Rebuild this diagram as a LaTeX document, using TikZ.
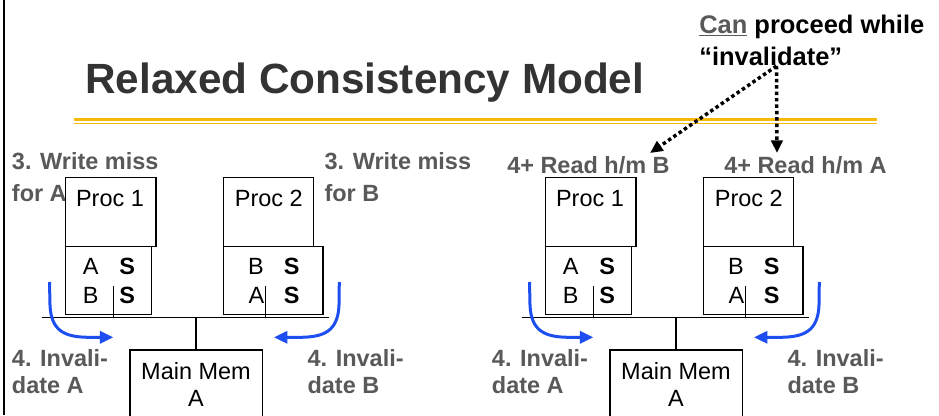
\documentclass[tikz,border=0pt]{standalone}
\usepackage{fontspec}
\setmainfont{Liberation Sans}
\usetikzlibrary{arrows.meta}
\definecolor{titlegray}{HTML}{333333}
\definecolor{lblgray}{HTML}{595959}
\definecolor{gold}{HTML}{F9B90A}
\definecolor{arrblue}{RGB}{28,78,240}
\begin{document}
\begin{tikzpicture}[x=0.75pt,y=-0.75pt,
  lbl/.style={anchor=base west, inner sep=0, text=lblgray, font=\fontsize{17.6}{21}\selectfont\bfseries},
  txt/.style={anchor=base, inner sep=0, font=\fontsize{17.6}{21}\selectfont},
  btxt/.style={txt, font=\fontsize{17.6}{21}\selectfont\bfseries},
  box/.style={draw, line width=1pt, inner sep=0},
  wire/.style={line width=1pt},
  bluearrow/.style={draw=arrblue, line width=2.25pt, -{Triangle[length=10pt,width=9pt]}},
  dotarrow/.style={line width=2.6pt, dash pattern=on 2.6pt off 2.2pt, -{Triangle[length=9.5pt,width=8.5pt]}}
]
\useasboundingbox (0,0) rectangle (939,415);
\clip (0,0) rectangle (939,415);
\fill[white] (0,0) rectangle (939,415);

% left border
\draw[line width=1.4pt] (3.7,0) -- (3.7,415);

% title and rule
\node[anchor=base west, inner sep=0, text=titlegray, font=\fontsize{31.7}{38}\selectfont\bfseries] (title) at (85,93) {Relaxed Consistency Model};
\draw[gold, line width=2.4pt] (74,119.5) -- (877,119.5);
\draw[gold, line width=0.8pt] (74,123.4) -- (877,123.4);

% note
\node[anchor=base west, inner sep=0, font=\fontsize{19.1}{23}\selectfont\bfseries] (cpw1) at (699,33.3) {\textcolor{lblgray}{\underline{Can}} proceed while};
\node[anchor=base west, inner sep=0, font=\fontsize{19.1}{23}\selectfont\bfseries] (cpw2) at (699,65) {“invalidate”};

% left-half labels
\node[lbl] (wmA1) at (11.7,169.3) {3. Write miss};
\node[lbl] (wmA2) at (11.7,201) {for A};
\node[lbl] (wmB1) at (324.3,169.3) {3. Write miss};
\node[lbl] (wmB2) at (324.3,201) {for B};

% right-half labels
\node[lbl] (rhB) at (507,173.3) {4+ Read h/m B};
\node[lbl] (rhA) at (724,173.3) {4+ Read h/m A};

% dotted arrows
\coordinate (dstart) at (776.5,66);
\coordinate (dendB) at (650,153);
\coordinate (dendA) at (777,153);
\draw[dotarrow] (dstart) -- (dendB);
\draw[dotarrow] (dstart) -- (dendA);

\foreach \p/\o in {L/0,R/480}{
\begin{scope}[xshift=\o*0.75pt]
  % processors and caches
  \node[box, minimum width=67.7pt, minimum height=52.05pt] (\p p1) at (110.85,212) {};
  \node[txt] (\p p1t) at (110,206) {Proc 1};
  \node[box, minimum width=64.2pt, minimum height=50.7pt] (\p c1) at (108.5,280.5) {};
  \node[box, minimum width=67.2pt, minimum height=52.05pt] (\p p2) at (268.5,212) {};
  \node[txt] (\p p2t) at (268.8,206) {Proc 2};
  \node[box, minimum width=74.5pt, minimum height=50.7pt] (\p c2) at (273.35,280.5) {};
  % cache contents
  \node[txt] (\p c1a) at (90.7,274.3) {A};
  \node[btxt] (\p c1s) at (127.3,274.3) {S};
  \node[txt] (\p c1b) at (90.7,303.3) {B};
  \node[btxt] (\p c1t) at (127.3,303.3) {S};
  \node[txt] (\p c2b) at (256,274.3) {B};
  \node[btxt] (\p c2s) at (291.7,274.3) {S};
  \node[txt] (\p c2a) at (256.5,303.3) {A};
  \node[btxt] (\p c2t) at (291.7,303.3) {S};
  % bus
  \coordinate (\p busL) at (41.7,317.7);
  \coordinate (\p busR) at (329.3,317.7);
  \draw[wire] (\p busL) -- (\p busR);
  \coordinate (\p d1) at (113.3,286);
  \coordinate (\p d2) at (265.7,286);
  \draw[wire] (\p d1) -- (\p d1 |- \p busL);
  \draw[wire] (\p d2) -- (\p d2 |- \p busL);
  % main memory
  \node[box, minimum width=99.2pt, minimum height=60pt] (\p mm) at (196.15,390) {};
  \node[txt] (\p mmt) at (196,379.3) {Main Mem};
  \node[txt] (\p mma) at (196,406) {A};
  \draw[wire] (\p mm.north) -- (\p mm.north |- \p busL);
  % invalidate labels
  \node[lbl] (\p iA1) at (11.7,366) {4. Invali-};
  \node[lbl] (\p iA2) at (11.7,393.3) {date A};
  \node[lbl] (\p iB1) at (307.3,366) {4. Invali-};
  \node[lbl] (\p iB2) at (307.3,393.3) {date B};
  % blue arrows
  \coordinate (\p blS) at (49.5,282);
  \coordinate (\p blE) at (113.3,337.3);
  \coordinate (\p brS) at (339.3,282);
  \coordinate (\p brE) at (274,337.3);
  \draw[bluearrow] (\p blS) -- (50,305) .. controls (51,332) and (66,337.3) .. (90,337.3) -- (\p blE);
  \draw[bluearrow] (\p brS) -- (339,305) .. controls (338,332) and (323,337.3) .. (299,337.3) -- (\p brE);
\end{scope}
}
\end{tikzpicture}
\end{document}
